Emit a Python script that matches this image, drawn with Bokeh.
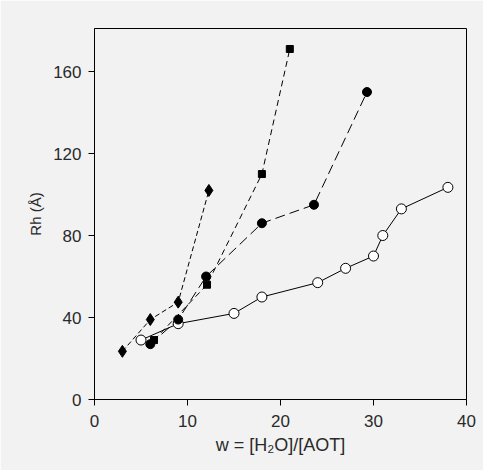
from bokeh.plotting import figure
from bokeh.models import Range1d, FixedTicker
from bokeh.embed import file_html
from bokeh.resources import INLINE

# open circles (solid line)
w_open = [5, 9, 15, 18, 24, 27, 30, 31, 33, 38]
rh_open = [29, 37, 42, 50, 57, 64, 70, 80, 93, 103.5]
# filled circles (long dashes)
w_fc = [6, 9, 12, 18, 23.6, 29.3]
rh_fc = [27, 39, 60, 86, 95, 150]
# filled squares (dashes)
w_sq = [6.4, 12.1, 18, 21]
rh_sq = [29, 56, 110, 171]
# filled diamonds (short dashes)
w_di = [3, 6, 9, 12.3]
rh_di = [23.5, 39, 47.5, 102]

x_ticks = [0, 10, 20, 30, 40]
y_ticks = [0, 40, 80, 120, 160]

FONT = "Liberation Sans"
BG = "#f2f2f2"
TXT = "#2a2a2a"

p = figure(width=483, height=470, output_backend="svg", toolbar_location=None,
           x_range=Range1d(0, 40), y_range=Range1d(0, 181))
p.min_border_left = 94
p.min_border_right = 17
p.min_border_top = 28
p.min_border_bottom = 71
p.background_fill_color = BG
p.border_fill_color = BG
p.outline_line_color = "black"
p.outline_line_width = 1
p.grid.visible = False

for ax in (p.xaxis[0], p.yaxis[0]):
    ax.axis_line_color = "black"
    ax.major_tick_line_color = "black"
    ax.major_tick_out = 6
    ax.major_tick_in = 0
    ax.minor_tick_line_color = None
    ax.major_label_text_font = FONT
    ax.major_label_text_font_size = "17px"
    ax.major_label_text_color = TXT
    ax.axis_label_text_font = FONT
    ax.axis_label_text_font_size = "18px"
    ax.axis_label_text_font_style = "normal"
    ax.axis_label_text_color = TXT

p.xaxis.ticker = FixedTicker(ticks=x_ticks)
p.yaxis.ticker = FixedTicker(ticks=y_ticks)
p.xaxis.axis_label = "w = [H₂O]/[AOT]"
p.yaxis.axis_label = "Rh (Å)"
p.yaxis.axis_label_text_font_size = "15px"
p.xaxis.major_label_standoff = 9
p.yaxis.major_label_standoff = 7
p.xaxis.axis_label_standoff = 5
p.yaxis.axis_label_standoff = 6

# lines
p.line(w_open, rh_open, line_color="black", line_width=1)
p.line(w_fc, rh_fc, line_color="black", line_width=1, line_dash="10 5")
p.line(w_sq, rh_sq, line_color="black", line_width=1, line_dash="6 4")
p.line(w_di, rh_di, line_color="black", line_width=1, line_dash="5 3")

# markers
p.scatter(w_open, rh_open, marker="circle", size=10, fill_color="white",
          line_color="black", line_width=1)
p.scatter(w_fc, rh_fc, marker="circle", size=9, fill_color="black", line_color="black")
p.scatter(w_sq, rh_sq, marker="square", size=7, fill_color="black", line_color="black")
p.scatter(w_di, rh_di, marker="diamond", size=12, fill_color="black", line_color="black")

open("out.html", "w").write(file_html(p, INLINE))
